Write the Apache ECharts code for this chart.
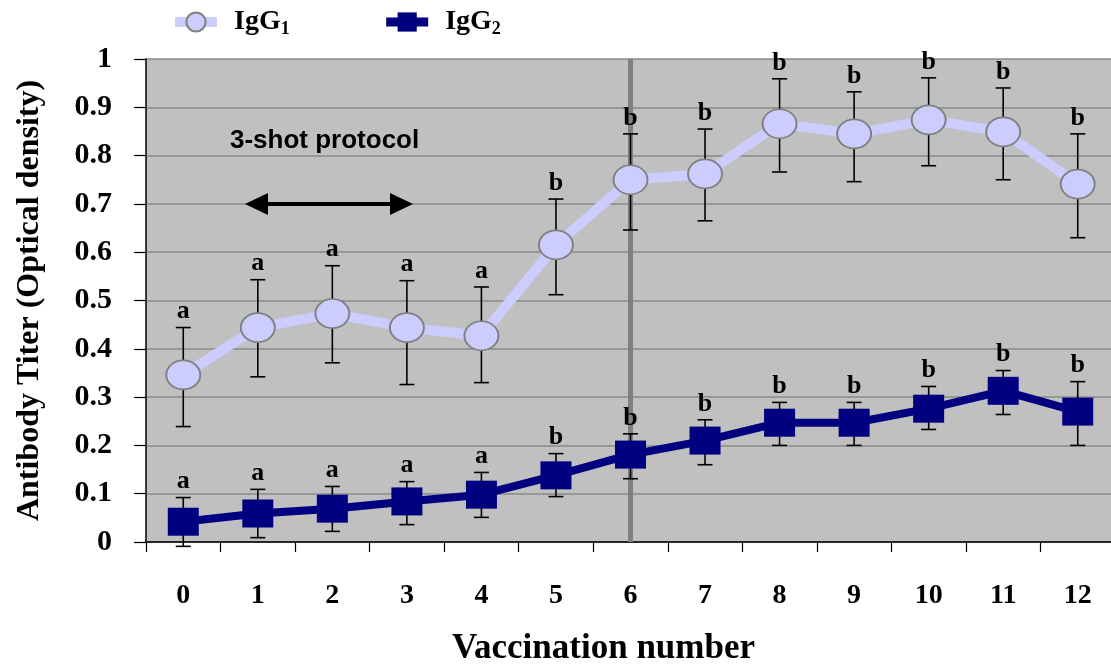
<!DOCTYPE html>
<html>
<head>
<meta charset="utf-8">
<script src="https://cdn.jsdelivr.net/npm/echarts@6/dist/echarts.min.js"></script>
<style>html,body{margin:0;padding:0;background:#fff}#c{width:1111px;height:664px}</style>
</head>
<body>
<div id="c"></div>
<script>
const categories = ['0','1','2','3','4','5','6','7','8','9','10','11','12'];
const yTicks = [0,0.1,0.2,0.3,0.4,0.5,0.6,0.7,0.8,0.9,1];

const igg1 = [0.346,0.444,0.473,0.444,0.427,0.615,0.750,0.762,0.866,0.845,0.874,0.849,0.741];
const igg1Upper = [0.444,0.543,0.572,0.541,0.528,0.710,0.845,0.855,0.959,0.932,0.961,0.940,0.845];
const igg1Lower = [0.239,0.342,0.371,0.326,0.330,0.512,0.646,0.665,0.766,0.746,0.779,0.750,0.630];
const igg1Letters = ['a','a','a','a','a','b','b','b','b','b','b','b','b'];

const igg2 = [0.042,0.059,0.069,0.084,0.098,0.138,0.181,0.210,0.247,0.247,0.276,0.313,0.270];
const igg2Upper = [0.092,0.109,0.115,0.125,0.144,0.183,0.224,0.253,0.289,0.289,0.322,0.355,0.332];
const igg2Lower = [-0.009,0.009,0.022,0.036,0.051,0.094,0.131,0.160,0.200,0.200,0.233,0.264,0.200];
const igg2Letters = ['a','a','a','a','a','b','b','b','b','b','b','b','b'];

const SERIF = '"Liberation Serif", "Times New Roman", serif';
const SANS = '"Liberation Sans", Arial, sans-serif';

function errData(lo, hi) {
  return categories.map((c, i) => [i, lo[i], hi[i]]);
}
function makeRender(letters) {
  return function (params, api) {
    const i = api.value(0);
    const pLo = api.coord([i, api.value(1)]);
    const pHi = api.coord([i, api.value(2)]);
    const letter = letters[params.dataIndex];
    const cw = 7.5;
    const st = {stroke: '#000', lineWidth: 1.6};
    return {
      type: 'group',
      children: [
        {type: 'line', shape: {x1: pLo[0], y1: pLo[1], x2: pHi[0], y2: pHi[1]}, style: st},
        {type: 'line', shape: {x1: pLo[0]-cw, y1: pLo[1], x2: pLo[0]+cw, y2: pLo[1]}, style: st},
        {type: 'line', shape: {x1: pHi[0]-cw, y1: pHi[1], x2: pHi[0]+cw, y2: pHi[1]}, style: st},
        {type: 'text', z2: 10, style: {text: letter, x: pHi[0], y: pHi[1] - 3, align: 'center', verticalAlign: 'bottom',
          font: 'bold 26px ' + SERIF, fill: '#000'}}
      ]
    };
  };
}

const chart = echarts.init(document.getElementById('c'), null, {renderer: 'canvas'});
chart.setOption({
  animation: false,
  backgroundColor: '#fff',
  grid: {left: 146, right: -4, top: 59, bottom: 122, show: true, backgroundColor: '#c0c0c0', borderWidth: 0,
    containLabel: false, outerBoundsMode: 'none'},
  legend: {
    top: 3, left: 165, itemWidth: 42, itemHeight: 24, itemGap: 92,
    data: [
      {name: 'IgG1', lineStyle: {width: 10, color: '#ccccff'}},
      {name: 'IgG2', lineStyle: {width: 9, color: '#000080'}}
    ],
    formatter: function (n) { return '{b|IgG}{s|' + n.slice(3) + '}'; },
    textStyle: {
      rich: {
        b: {fontFamily: SERIF, fontWeight: 'bold', fontSize: 28, color: '#000', padding: [0,0,0,12]},
        s: {fontFamily: SERIF, fontWeight: 'bold', fontSize: 18, color: '#000', verticalAlign: 'bottom', padding: [14,0,0,0]}
      }
    }
  },
  xAxis: {
    type: 'category', data: categories, boundaryGap: true,
    name: 'Vaccination number', nameLocation: 'middle', nameGap: 89,
    nameTextStyle: {fontFamily: SERIF, fontWeight: 'bold', fontSize: 35, color: '#000', padding: [0, 54, 0, 0]},
    axisLine: {lineStyle: {color: '#000', width: 1.5}},
    axisTick: {show: true, length: 10, lineStyle: {color: '#000', width: 1.2}, alignWithLabel: false},
    axisLabel: {margin: 40, fontFamily: SERIF, fontWeight: 'bold', fontSize: 28, color: '#000'},
    splitLine: {show: false}
  },
  yAxis: {
    type: 'value', min: 0, max: 1, interval: 0.1,
    name: 'Antibody Titer (Optical density)', nameLocation: 'middle', nameGap: 100, nameRotate: 90,
    nameTextStyle: {fontFamily: SERIF, fontWeight: 'bold', fontSize: 32, color: '#000'},
    axisLine: {show: true, lineStyle: {color: '#000', width: 1.5}},
    axisTick: {show: true, inside: false, length: 12, lineStyle: {color: '#000', width: 1.2}},
    axisLabel: {margin: 34, fontFamily: SERIF, fontWeight: 'bold', fontSize: 30, color: '#000',
      formatter: function (v) { const r = Math.round(v*10)/10; return yTicks.indexOf(r) >= 0 ? String(r) : ''; }},
    splitLine: {show: true, lineStyle: {color: '#8a8a8a', width: 1.5}}
  },
  series: [
    {
      name: 'IgG1', type: 'line', data: igg1, z: 4,
      symbol: 'circle', symbolSize: [34, 29],
      lineStyle: {color: '#ccccff', width: 10},
      itemStyle: {color: '#ccccff', borderColor: '#808080', borderWidth: 1.8},
      markLine: {
        silent: true, symbol: ['none', 'none'], label: {show: false}, z: 3,
        lineStyle: {color: '#808080', width: 5, type: 'solid'},
        data: [{xAxis: 6}]
      }
    },
    {
      name: 'IgG2', type: 'line', data: igg2, z: 4,
      symbol: 'rect', symbolSize: [31, 28],
      lineStyle: {color: '#000080', width: 8},
      itemStyle: {color: '#000080', borderWidth: 0}
    },
    {
      name: 'err1', type: 'custom', data: errData(igg1Lower, igg1Upper), z: 3,
      renderItem: makeRender(igg1Letters), encode: {x: 0, y: [1, 2]}
    },
    {
      name: 'err2', type: 'custom', data: errData(igg2Lower, igg2Upper), z: 3,
      renderItem: makeRender(igg2Letters), encode: {x: 0, y: [1, 2]}
    }
  ],
  graphic: [
    {type: 'text', left: 230, top: 128, z: 10,
      style: {text: '3-shot protocol', font: 'bold 26px ' + SANS, fill: '#000'}},
    {type: 'line', z: 10, shape: {x1: 262, y1: 204, x2: 395, y2: 204}, style: {stroke: '#000', lineWidth: 4}},
    {type: 'polygon', z: 10, shape: {points: [[245, 204], [268, 193], [268, 215]]}, style: {fill: '#000'}},
    {type: 'polygon', z: 10, shape: {points: [[413, 204], [390, 193], [390, 215]]}, style: {fill: '#000'}}
  ]
});
</script>
</body>
</html>
